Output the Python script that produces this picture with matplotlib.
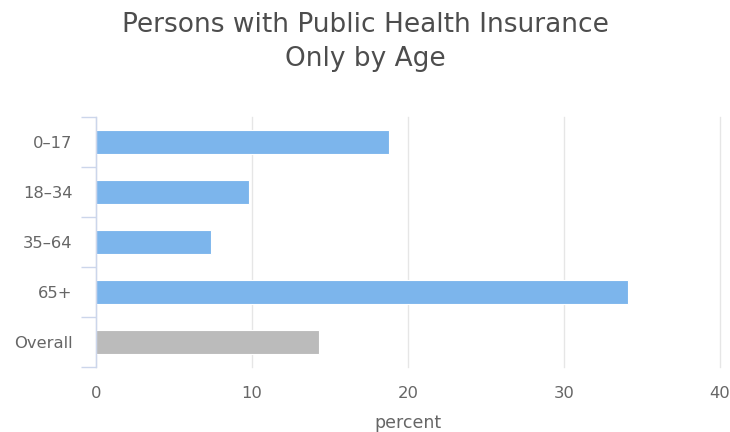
import matplotlib
matplotlib.use("Agg")
import matplotlib.pyplot as plt

categories = ["0-17", "18-34", "35-64", "65+", "Overall"]
values = [18.8, 9.8, 7.4, 34.1, 14.3]
colors = ["#7cb5ec", "#7cb5ec", "#7cb5ec", "#7cb5ec", "#bbbbbb"]
x_ticks = [0, 10, 20, 30, 40]

W, H = 730, 432
fig = plt.figure(figsize=(W / 100, H / 100), dpi=100)
left, right, top, bottom = 96, 720, 117, 367
ax = fig.add_axes([left / W, 1 - bottom / H, (right - left) / W, (bottom - top) / H])

ypos = list(range(len(categories)))
ax.barh(ypos, values, height=0.47, color=colors, edgecolor="white", linewidth=0.8, zorder=3)

ax.set_ylim(len(categories) - 0.5, -0.5)
ax.set_xlim(0, 40)
ax.set_yticks(ypos)
ax.set_yticklabels([c.replace("-", "\u2013") for c in categories])
ax.set_yticks([i - 0.5 for i in range(len(categories) + 1)], minor=True)
ax.tick_params(axis="y", which="major", length=0, pad=17, labelsize=11.8, labelcolor="#666666")
ax.tick_params(axis="y", which="minor", length=11, width=1, color="#ccd6eb")
ax.set_xticks(x_ticks)
ax.tick_params(axis="x", length=0, pad=13.5, labelsize=11.8, labelcolor="#666666")
ax.grid(axis="x", color="#e6e6e6", linewidth=1, zorder=0)
for gl in ax.get_xgridlines():
    gl.set_clip_on(False)

for s in ["top", "right", "bottom"]:
    ax.spines[s].set_visible(False)
ax.spines["left"].set_color("#ccd6eb")
ax.spines["left"].set_linewidth(1)
ax.spines["left"].set_zorder(4)

ax.set_xlabel("percent", fontsize=12.5, color="#666666", labelpad=9.5)

fig.text(0.5, 1 - 32 / H, "Persons with Public Health Insurance", ha="center", va="baseline",
         fontsize=19, color="#4d4d4d")
fig.text(0.5, 1 - 66 / H, "Only by Age", ha="center", va="baseline",
         fontsize=19, color="#4d4d4d")

fig.savefig("out.png", dpi=100, facecolor="white")
